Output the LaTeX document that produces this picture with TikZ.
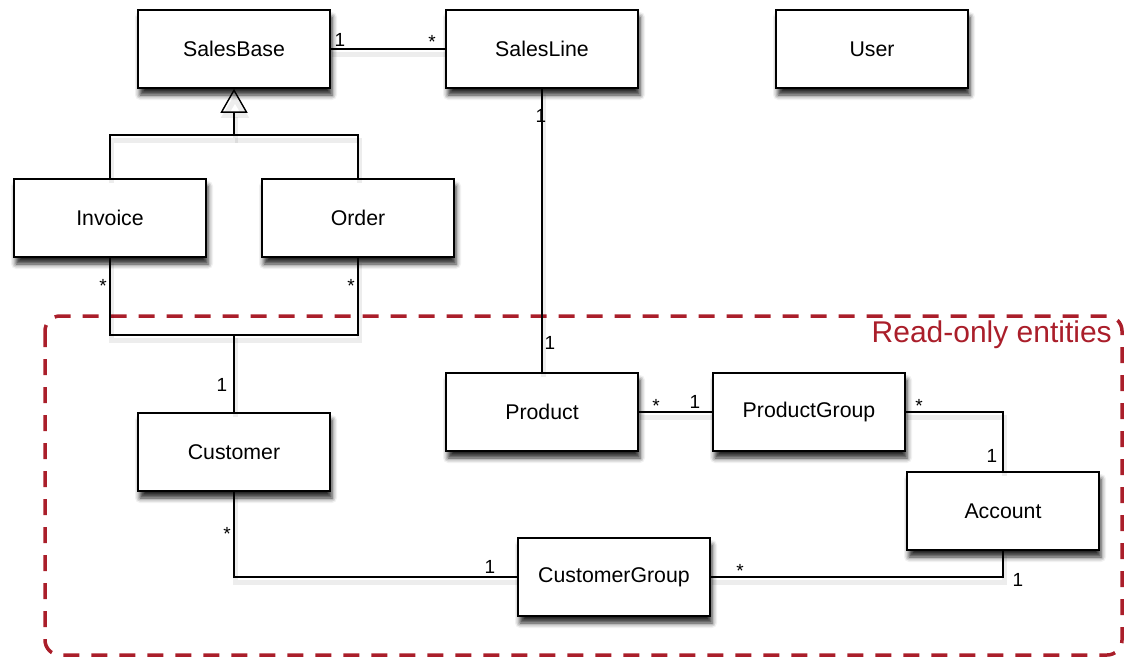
\documentclass[tikz,border=0pt]{standalone}
\usepackage{fontspec}
\setmainfont{Liberation Sans}
\usetikzlibrary{arrows.meta,shadows.blur}
\definecolor{roframe}{RGB}{170,30,42}

\begin{document}
\begin{tikzpicture}[x=1pt,y=-1pt,
  entity/.style={draw=black, line width=1.6pt, fill=white,
    minimum width=192pt, minimum height=78pt, inner sep=0pt,
    font=\fontsize{21.3}{25}\selectfont,
    blur shadow={shadow xshift=2pt, shadow yshift=-7pt,
      shadow blur radius=5pt, shadow opacity=85}},
  assoc/.style={draw=black, line width=1.4pt,
    preaction={draw=black, opacity=0.07, line width=5pt,
      transform canvas={xshift=1pt, yshift=-5pt}}},
  mult/.style={font=\fontsize{19}{21}\selectfont, inner sep=0pt, anchor=base},
  frame/.style={draw=roframe, line width=3.5pt, dash pattern=on 16pt off 12pt,
    rounded corners=15pt},
]
\useasboundingbox (0,0) rectangle (1126,656);

% read-only region
\draw[frame] (45,316) rectangle (1122,655);
\node[anchor=base east, text=roframe, inner sep=0pt,
  font=\fontsize{30}{36}\selectfont] (rolabel) at (1112,342) {Read-only entities};

% junction points
\coordinate (genjoin) at (234,135);
\coordinate (custjoin) at (234,335);

% classes
\node[entity] (salesbase) at (234,49) {SalesBase};
\node[entity] (salesline) at (542,49) {SalesLine};
\node[entity] (user) at (872,49) {User};
\node[entity] (invoice) at (110,218) {Invoice};
\node[entity] (order) at (358,218) {Order};
\node[entity] (customer) at (234,452) {Customer};
\node[entity] (product) at (542,412) {Product};
\node[entity] (productgroup) at (809,412) {ProductGroup};
\node[entity] (account) at (1003,511) {Account};
\node[entity] (customergroup) at (614,577) {CustomerGroup};

% generalisation
\draw[assoc, -{Triangle[open, length=24pt, width=27pt]}]
  (invoice.north) |- (genjoin) -- (salesbase.south);
\draw[assoc] (order.north) |- (genjoin);

% associations
\draw[assoc] (salesbase.east) -- (salesline.west);
\draw[assoc] (salesline.south) -- (product.north);
\draw[assoc] (invoice.south) |- (custjoin) -- (customer.north);
\draw[assoc] (order.south) |- (custjoin);
\draw[assoc] (product.east) -- (productgroup.west);
\draw[assoc] (productgroup.east) -| (account.north);
\draw[assoc] (account.south) |- (customergroup.east);
\draw[assoc] (customer.south) |- (customergroup.west);

% multiplicities
\node[mult] (m1) at (340,46.5) {1};
\node[mult] (m2) at (432,48) {*};
\node[mult] (m3) at (541,122.5) {1};
\node[mult] (m4) at (550,349.5) {1};
\node[mult] (m5) at (103,292) {*};
\node[mult] (m6) at (351,292) {*};
\node[mult] (m7) at (222,391.5) {1};
\node[mult] (m8) at (656,412) {*};
\node[mult] (m9) at (695,408.5) {1};
\node[mult] (m10) at (919,412) {*};
\node[mult] (m11) at (992,462.5) {1};
\node[mult] (m12) at (740,577) {*};
\node[mult] (m13) at (1018,586.5) {1};
\node[mult] (m14) at (227,540) {*};
\node[mult] (m15) at (490,573.5) {1};
\end{tikzpicture}
\end{document}
